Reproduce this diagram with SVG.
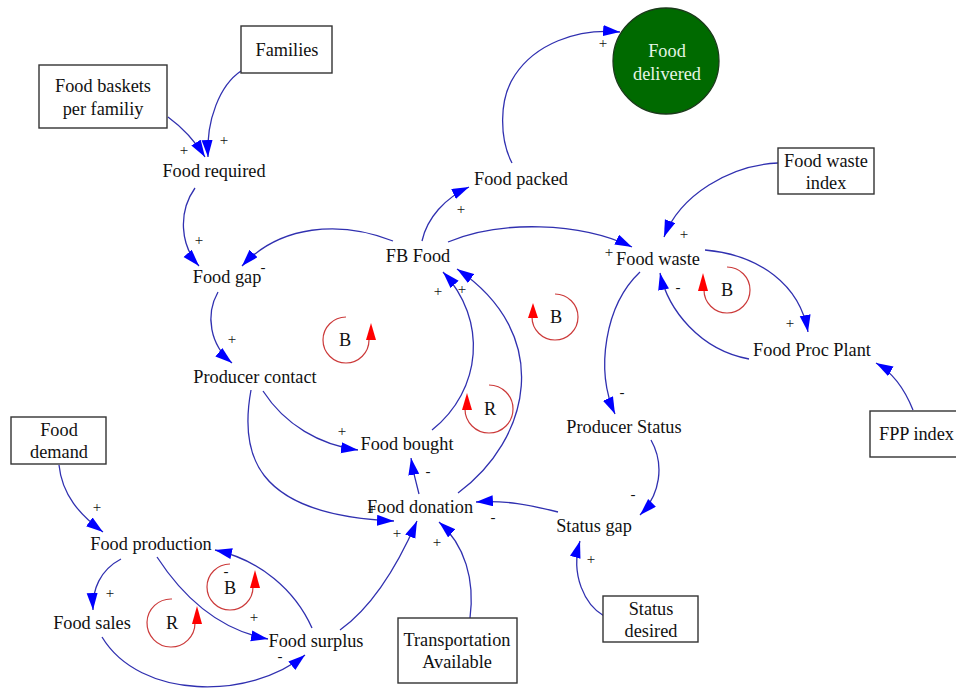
<svg xmlns="http://www.w3.org/2000/svg" width="956" height="691" viewBox="0 0 956 691">
<style>
text{font-family:"Liberation Serif","Times New Roman",serif;fill:#111}
.n{font-size:18.3px;text-anchor:middle}
.p{font-size:15px;text-anchor:middle}
.box{fill:#fff;stroke:#333;stroke-width:1.4}
.c{fill:none;stroke:#3030b0;stroke-width:1.3}
.loop{fill:none;stroke:#cc3a3a;stroke-width:1.2}
.la{fill:#ff0000}
</style>
<defs>
<marker id="ah" markerUnits="userSpaceOnUse" markerWidth="18" markerHeight="12" refX="17" refY="5.5" orient="auto"><path d="M0,0 L17,5.5 L0,11 z" fill="#0000ff"/></marker>
</defs>
<rect width="956" height="691" fill="#fff"/>
<g id="connectors">
<path class="c" marker-end="url(#ah)" d="M241,71 C220,85 206,120 208,157"/>
<path class="c" marker-end="url(#ah)" d="M168,117 Q190,133 205,157"/>
<path class="c" marker-end="url(#ah)" d="M195,188 C178,212 180,245 199,266"/>
<path class="c" marker-end="url(#ah)" d="M393,241 C340,220 280,225 242,266"/>
<path class="c" marker-end="url(#ah)" d="M422,241 C427,218 445,198 469,187"/>
<path class="c" marker-end="url(#ah)" d="M512,163 C500,140 498,100 515,75 C535,45 575,28 620,32"/>
<path class="c" marker-end="url(#ah)" d="M448,242 C500,220 580,222 632,247"/>
<path class="c" marker-end="url(#ah)" d="M778,163 C730,165 680,195 664,237"/>
<path class="c" marker-end="url(#ah)" d="M705,250 C760,255 800,285 808,332"/>
<path class="c" marker-end="url(#ah)" d="M749,359 C700,350 668,310 660,273"/>
<path class="c" marker-end="url(#ah)" d="M913,410 C905,390 892,372 876,363"/>
<path class="c" marker-end="url(#ah)" d="M640,272 C605,305 595,370 615,414"/>
<path class="c" marker-end="url(#ah)" d="M651,440 C665,465 660,495 640,515"/>
<path class="c" marker-end="url(#ah)" d="M558,512 C530,505 505,500 476,502"/>
<path class="c" marker-end="url(#ah)" d="M604,616 C585,605 570,575 580,541"/>
<path class="c" marker-end="url(#ah)" d="M470,618 C475,580 465,545 439,522"/>
<path class="c" marker-end="url(#ah)" d="M340,630 C375,605 400,560 417,521"/>
<path class="c" marker-end="url(#ah)" d="M251,390 C240,450 250,515 394,521"/>
<path class="c" marker-end="url(#ah)" d="M263,391 C285,425 320,445 358,450"/>
<path class="c" marker-end="url(#ah)" d="M218,292 C205,315 210,345 232,363"/>
<path class="c" marker-end="url(#ah)" d="M432,430 C482,390 488,320 443,272"/>
<path class="c" marker-end="url(#ah)" d="M458,493 C530,440 555,335 457,269"/>
<path class="c" marker-end="url(#ah)" d="M419,494 C416,483 413,470 411,458"/>
<path class="c" marker-end="url(#ah)" d="M59,465 C62,495 80,515 103,532"/>
<path class="c" marker-end="url(#ah)" d="M121,559 C100,570 92,590 93,610"/>
<path class="c" marker-end="url(#ah)" d="M157,557 C185,600 220,630 268,639"/>
<path class="c" marker-end="url(#ah)" d="M312,628 C295,590 260,560 215,550"/>
<path class="c" marker-end="url(#ah)" d="M102,637 C140,700 250,700 305,655"/>
</g>
<g id="polarities">
<text class="p" x="224" y="145">+</text>
<text class="p" x="184" y="155">+</text>
<text class="p" x="199" y="245">+</text>
<text class="p" x="263" y="272">-</text>
<text class="p" x="461" y="214">+</text>
<text class="p" x="603" y="48">+</text>
<text class="p" x="609" y="257">+</text>
<text class="p" x="684" y="239">+</text>
<text class="p" x="790" y="328">+</text>
<text class="p" x="678" y="292">-</text>
<text class="p" x="622" y="397">-</text>
<text class="p" x="633" y="499">-</text>
<text class="p" x="493" y="522">-</text>
<text class="p" x="591" y="564">+</text>
<text class="p" x="437" y="547">+</text>
<text class="p" x="397" y="538">+</text>
<text class="p" x="372" y="514">+</text>
<text class="p" x="342" y="436">+</text>
<text class="p" x="232" y="344">+</text>
<text class="p" x="438" y="296">+</text>
<text class="p" x="462" y="294">+</text>
<text class="p" x="428" y="476">-</text>
<text class="p" x="97" y="512">+</text>
<text class="p" x="110" y="598">+</text>
<text class="p" x="254" y="622">+</text>
<text class="p" x="226" y="576">-</text>
<text class="p" x="280" y="661">-</text>
</g>
<g id="loops">
<g id="loop-b1"><path class="loop" d="M346,317 A23,23 0 1 0 369,340"/><polygon class="la" points="371,323 366,340 376,340"/><text class="n" x="345" y="346">B</text></g>
<g id="loop-b2"><path class="loop" d="M555,294 A23,23 0 1 1 532,317"/><polygon class="la" points="533,303 528,318 538,318"/><text class="n" x="556" y="323">B</text></g>
<g id="loop-r1"><path class="loop" d="M489,385 A24,24 0 1 1 465,409"/><polygon class="la" points="467,393 462,410 472,410"/><text class="n" x="490" y="415">R</text></g>
<g id="loop-b3"><path class="loop" d="M727,267 A23,23 0 1 1 704,290"/><polygon class="la" points="703,273 698,291 708,291"/><text class="n" x="727" y="296">B</text></g>
<g id="loop-b4"><path class="loop" d="M230,564 A23,23 0 1 0 253,587"/><polygon class="la" points="255,570 250,588 260,588"/><text class="n" x="230" y="594">B</text></g>
<g id="loop-r2"><path class="loop" d="M172,599 A24,24 0 1 0 195,623"/><polygon class="la" points="197,606 192,624 202,624"/><text class="n" x="172" y="629">R</text></g>
</g>
<g id="families"><rect class="box" x="241" y="26" width="91" height="47"/><text class="n" x="287" y="56">Families</text></g>
<g id="food-baskets"><rect class="box" x="39" y="65" width="128" height="63"/><text class="n" x="103" y="92">Food baskets</text><text class="n" x="103" y="115">per familiy</text></g>
<g id="food-required"><text class="n" x="214" y="177">Food required</text></g>
<g id="food-gap"><text class="n" x="227" y="283">Food gap</text></g>
<g id="fb-food"><text class="n" x="418" y="262">FB Food</text></g>
<g id="food-packed"><text class="n" x="521" y="185">Food packed</text></g>
<g id="food-delivered"><circle cx="666" cy="61" r="53" fill="#006a00" stroke="#1a3a1a" stroke-width="1.3"/><text class="n" x="667" y="57" style="fill:#e6f6e6">Food</text><text class="n" x="667" y="80" style="fill:#e6f6e6">delivered</text></g>
<g id="food-waste"><text class="n" x="658" y="265">Food waste</text></g>
<g id="food-waste-index"><rect class="box" x="778" y="148" width="96" height="46"/><text class="n" x="826" y="167">Food waste</text><text class="n" x="826" y="189">index</text></g>
<g id="food-proc-plant"><text class="n" x="812" y="356">Food Proc Plant</text></g>
<g id="fpp-index"><rect class="box" x="870" y="411" width="100" height="46"/><text x="879" y="440" style="font-size:18.3px">FPP index</text></g>
<g id="producer-status"><text class="n" x="624" y="433">Producer Status</text></g>
<g id="status-gap"><text class="n" x="594" y="532">Status gap</text></g>
<g id="status-desired"><rect class="box" x="603" y="596" width="95" height="46"/><text class="n" x="651" y="615">Status</text><text class="n" x="651" y="637">desired</text></g>
<g id="transportation"><rect class="box" x="398" y="618" width="119" height="65"/><text class="n" x="457" y="646">Transportation</text><text class="n" x="457" y="668">Available</text></g>
<g id="food-donation"><text class="n" x="420" y="513">Food donation</text></g>
<g id="food-bought"><text class="n" x="407" y="450">Food bought</text></g>
<g id="producer-contact"><text class="n" x="255" y="383">Producer contact</text></g>
<g id="food-demand"><rect class="box" x="11" y="417" width="95" height="47"/><text class="n" x="59" y="436">Food</text><text class="n" x="59" y="458">demand</text></g>
<g id="food-production"><text class="n" x="151" y="550">Food production</text></g>
<g id="food-sales"><text class="n" x="92" y="629">Food sales</text></g>
<g id="food-surplus"><text class="n" x="316" y="647">Food surplus</text></g>
</svg>
